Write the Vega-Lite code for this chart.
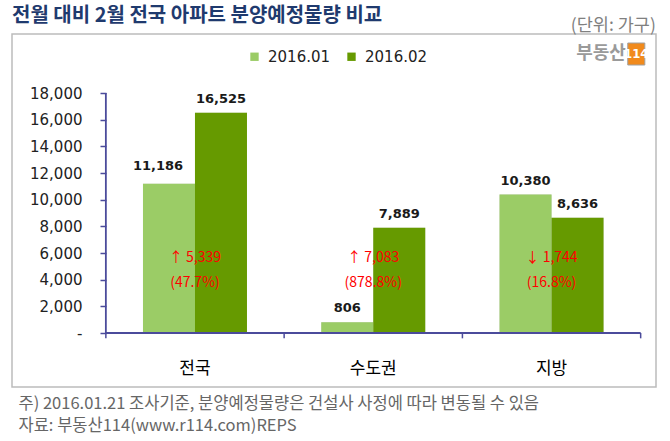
{
  "$schema": "https://vega.github.io/schema/vega-lite/v6.json",
  "width": 644,
  "height": 353,
  "autosize": {"type": "none"},
  "padding": {"left": 12, "top": 34, "right": 14, "bottom": 54},
  "background": "white",
  "title": {
    "text": "전월 대비 2월 전국 아파트 분양예정물량 비교",
    "anchor": "start",
    "frame": "group",
    "font": "Noto Sans CJK KR",
    "fontSize": 20,
    "fontWeight": "bold",
    "color": "#1f3a6e",
    "offset": 8,
    "dy": 17
  },
  "config": {
    "view": {"stroke": "#bcbcbc", "strokeWidth": 1.5},
    "axis": {"grid": false}
  },
  "datasets": {
    "main": [
      {"region": "전국", "month": "2016.01", "value": 11186},
      {"region": "전국", "month": "2016.02", "value": 16525},
      {"region": "수도권", "month": "2016.01", "value": 806},
      {"region": "수도권", "month": "2016.02", "value": 7889},
      {"region": "지방", "month": "2016.01", "value": 10380},
      {"region": "지방", "month": "2016.02", "value": 8636}
    ],
    "change": [
      {"region": "전국", "label": ["↑ 5,339", "(47.7%)"]},
      {"region": "수도권", "label": ["↑ 7,083", "(878.8%)"]},
      {"region": "지방", "label": ["↓ 1,744", "(16.8%)"]}
    ],
    "one": [{}]
  },
  "encoding": {
    "x": {
      "field": "region",
      "type": "nominal",
      "sort": ["전국", "수도권", "지방"],
      "scale": {"domain": ["전국", "수도권", "지방"], "paddingInner": 0.4167, "paddingOuter": 0.5145, "align": 0.714},
      "axis": {
        "orient": "bottom",
        "offset": -54,
        "domain": false,
        "ticks": false,
        "labelFont": "Noto Sans CJK KR",
        "labelFontSize": 17,
        "labelColor": "#000000",
        "labelPadding": 27,
        "labelAngle": 0,
        "title": ["주) 2016.01.21  조사기준, 분양예정물량은 건설사 사정에 따라 변동될 수 있음", "자료: 부동산114(www.r114.com)REPS"],
        "titleFont": "Noto Sans CJK KR",
        "titleFontSize": 16.5,
        "titleFontWeight": "normal",
        "titleColor": "#666666",
        "titleAnchor": "start",
        "titleAlign": "left",
        "titleBaseline": "top",
        "titleX": 6,
        "titleY": 62,
        "titleLineHeight": 22
      }
    },
    "y": {
      "type": "quantitative",
      "scale": {"domain": [-4050, 22425], "nice": false, "zero": false},
      "axis": {
        "values": [0, 2000, 4000, 6000, 8000, 10000, 12000, 14000, 16000, 18000],
        "offset": -94,
        "domain": false,
        "tickSize": 6,
        "tickColor": "#4b4b9b",
        "tickWidth": 1.5,
        "labelExpr": "datum.value === 0 ? '-' : format(datum.value, ',')",
        "labelFont": "DejaVu Sans",
        "labelFontSize": 15,
        "labelColor": "#222222",
        "labelPadding": 18,
        "title": null
      }
    }
  },
  "layer": [
    {
      "data": {"name": "main"},
      "mark": {"type": "bar", "color": "#9e9e9e", "opacity": 0.45, "xOffset": 3},
      "encoding": {
        "xOffset": {"field": "month", "type": "nominal", "sort": ["2016.01", "2016.02"]},
        "y": {"field": "value", "type": "quantitative", "stack": null},
        "y2": {"datum": 0}
      }
    },
    {
      "data": {"name": "main"},
      "mark": {"type": "bar"},
      "encoding": {
        "xOffset": {"field": "month", "type": "nominal", "sort": ["2016.01", "2016.02"]},
        "y": {"field": "value", "type": "quantitative", "stack": null},
        "y2": {"datum": 0},
        "color": {
          "field": "month",
          "type": "nominal",
          "scale": {"domain": ["2016.01", "2016.02"], "range": ["#9bcc66", "#669a00"]},
          "legend": {
            "orient": "none",
            "legendX": 235,
            "legendY": 15,
            "direction": "horizontal",
            "title": null,
            "symbolType": "square",
            "symbolSize": 70,
            "symbolStrokeWidth": 0,
            "labelFont": "DejaVu Sans",
            "labelFontSize": 15,
            "labelColor": "#222222",
            "labelOffset": 6,
            "columnPadding": 13
          }
        }
      }
    },
    {
      "data": {"name": "main"},
      "transform": [{"filter": "!(datum.region === '전국' && datum.month === '2016.01')"}],
      "mark": {"type": "text", "font": "DejaVu Sans", "fontSize": 13, "fontWeight": "bold", "color": "#1a1a1a", "baseline": "bottom", "dy": -7},
      "encoding": {
        "xOffset": {"field": "month", "type": "nominal", "sort": ["2016.01", "2016.02"]},
        "y": {"field": "value", "type": "quantitative"},
        "text": {"field": "value", "type": "quantitative", "format": ","}
      }
    },
    {
      "data": {"name": "main"},
      "transform": [{"filter": "datum.region === '전국' && datum.month === '2016.01'"}],
      "mark": {"type": "text", "font": "DejaVu Sans", "fontSize": 13, "fontWeight": "bold", "color": "#1a1a1a", "baseline": "bottom", "dy": -11, "dx": -11},
      "encoding": {
        "xOffset": {"datum": "2016.01"},
        "y": {"field": "value", "type": "quantitative"},
        "text": {"field": "value", "type": "quantitative", "format": ","}
      }
    },
    {
      "data": {"name": "change"},
      "mark": {"type": "text", "font": "Noto Sans CJK KR", "fontSize": 14, "color": "#ff0000", "baseline": "middle", "lineHeight": 25},
      "encoding": {
        "y": {"datum": 5650},
        "text": {"field": "label"}
      }
    },
    {
      "data": {"name": "change"},
      "mark": {"type": "rule", "color": "#4b4b9b", "strokeWidth": 1.5},
      "encoding": {
        "x": {"field": "region", "type": "nominal", "bandPosition": -0.357},
        "y": {"datum": 0},
        "y2": {"datum": -400}
      }
    },
    {
      "data": {"name": "one"},
      "mark": {"type": "rule", "color": "#4b4b9b", "strokeWidth": 1.5},
      "encoding": {
        "x": {"datum": "지방", "bandPosition": 1.357},
        "y": {"datum": 0},
        "y2": {"datum": -400}
      }
    },
    {
      "data": {"name": "one"},
      "mark": {"type": "rule", "color": "#4b4b9b", "strokeWidth": 1.8},
      "encoding": {
        "x": {"datum": "전국", "bandPosition": -0.357},
        "y": {"datum": 0},
        "y2": {"datum": 18000}
      }
    },
    {
      "data": {"name": "one"},
      "mark": {"type": "rule", "color": "#4b4b9b", "strokeWidth": 1.8},
      "encoding": {
        "x": {"datum": "전국", "bandPosition": -0.357},
        "x2": {"datum": "지방", "bandPosition": 1.357},
        "y": {"datum": 0}
      }
    },
    {
      "data": {"name": "one"},
      "mark": {"type": "text", "text": "(단위: 가구)", "font": "Noto Sans CJK KR", "fontSize": 17.5, "color": "#808080", "align": "right", "baseline": "middle"},
      "encoding": {
        "x": {"datum": "지방", "bandPosition": 1.503},
        "y": {"datum": 23025}
      }
    },
    {
      "data": {"name": "one"},
      "mark": {"type": "text", "text": "부동산", "font": "Noto Sans CJK KR", "fontSize": 18, "fontWeight": "bold", "color": "#9a9a9a", "align": "right", "baseline": "middle"},
      "encoding": {
        "x": {"datum": "지방", "bandPosition": 1.215},
        "y": {"datum": 20925}
      }
    },
    {
      "data": {"name": "one"},
      "mark": {"type": "rect", "color": "#f18a1c", "stroke": "#a0a0a0", "strokeWidth": 1},
      "encoding": {
        "x": {"datum": "지방", "bandPosition": 1.233},
        "x2": {"datum": "지방", "bandPosition": 1.397},
        "y": {"datum": 21750},
        "y2": {"datum": 20100}
      }
    },
    {
      "data": {"name": "one"},
      "mark": {"type": "text", "text": "114", "font": "DejaVu Sans Condensed", "fontSize": 13, "fontWeight": "bold", "color": "#ffffff", "align": "center", "baseline": "middle"},
      "encoding": {
        "x": {"datum": "지방", "bandPosition": 1.315},
        "y": {"datum": 20925}
      }
    }
  ]
}
